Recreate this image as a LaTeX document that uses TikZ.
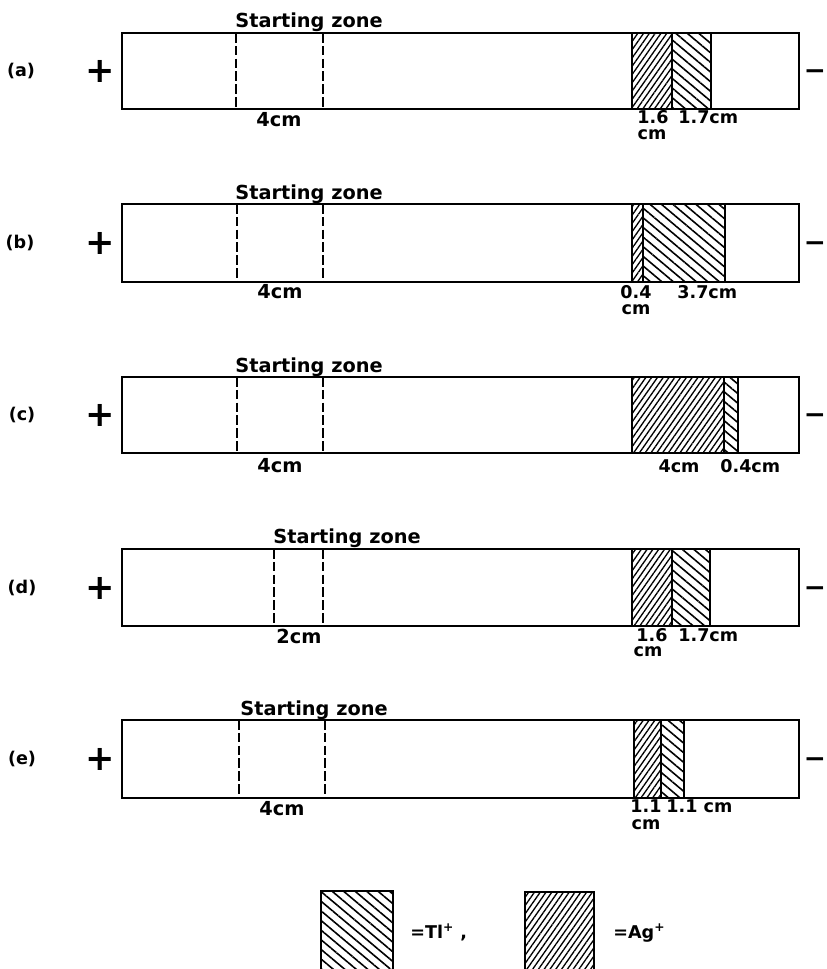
\documentclass[tikz,border=0pt]{standalone}
\usepackage{fontspec}
\setmainfont{DejaVu Sans}
\usetikzlibrary{patterns.meta}

\begin{document}
\begin{tikzpicture}[
    x=0.02cm, y=-0.02cm,
    font=\fontsize{11}{13}\bfseries\selectfont,
    strip/.style={line width=1.1pt},
    zone/.style={line width=0.7pt, dash pattern=on 5.5pt off 1.8pt},
    tl/.style={line width=1.1pt, pattern={Lines[angle=-40, distance=4.2pt, line width=0.9pt]}},
    ag/.style={line width=1.1pt, pattern={Lines[angle=55, distance=2.7pt, line width=0.75pt]}},
    lbl/.style={anchor=base, inner sep=0pt},
    cmlbl/.style={anchor=base, inner sep=0pt, font=\fontsize{10}{12}\bfseries\selectfont},
    stripname/.style={inner sep=0pt, font=\fontsize{10}{12}\bfseries\selectfont},
    plus/.style={inner sep=0pt, font=\fontsize{20}{20}\bfseries\selectfont},
    minus/.style={inner sep=0pt, font=\fontsize{15}{15}\bfseries\selectfont}
]
\useasboundingbox (0,0) rectangle (826,969);

% --- PARAMETER ---
\def\xl{122}   % linker Rand der Streifen
\def\xr{799}   % rechter Rand der Streifen

% --- STREIFEN (a) ---
\begin{scope}[shift={(0,33)}]
    \def\hh{76}
    \node[stripname] (labA) at (21,38) {(a)};
    \node[plus] (plusA) at (100,38) {+};
    \node[minus] (minusA) at (815,42) {−};
    \draw[ag] (632,0) rectangle (672,\hh);
    \draw[tl] (672,0) rectangle (711,\hh);
    \draw[zone] (236,0) -- (236,\hh);
    \draw[zone] (323,0) -- (323,\hh);
    \draw[strip] (\xl,0) rectangle (\xr,\hh);
    \node[lbl, anchor=base west] (startA) at (235,-5) {Starting zone};
    \node[lbl] (zoneA) at (279,94) {4cm};
    \node[cmlbl] (agA) at (653,91) {1.6};
    \node[cmlbl] (agcmA) at (652,107) {cm};
    \node[cmlbl, anchor=base west] (tlA) at (678,91) {1.7cm};
\end{scope}

% --- STREIFEN (b) ---
\begin{scope}[shift={(0,204)}]
    \def\hh{78}
    \node[stripname] (labB) at (20,39) {(b)};
    \node[plus] (plusB) at (100,39) {+};
    \node[minus] (minusB) at (815,43) {−};
    \draw[ag] (632,0) rectangle (643,\hh);
    \draw[tl] (643,0) rectangle (725,\hh);
    \draw[zone] (237,0) -- (237,\hh);
    \draw[zone] (323,0) -- (323,\hh);
    \draw[strip] (\xl,0) rectangle (\xr,\hh);
    \node[lbl, anchor=base west] (startB) at (235,-4) {Starting zone};
    \node[lbl] (zoneB) at (280,94) {4cm};
    \node[cmlbl] (agB) at (636,94) {0.4};
    \node[cmlbl] (agcmB) at (636,110) {cm};
    \node[cmlbl, anchor=base west] (tlB) at (677,94) {3.7cm};
\end{scope}

% --- STREIFEN (c) ---
\begin{scope}[shift={(0,377)}]
    \def\hh{76}
    \node[stripname] (labC) at (22,38) {(c)};
    \node[plus] (plusC) at (100,38) {+};
    \node[minus] (minusC) at (815,42) {−};
    \draw[ag] (632,0) rectangle (724,\hh);
    \draw[tl] (724,0) rectangle (738,\hh);
    \draw[zone] (237,0) -- (237,\hh);
    \draw[zone] (323,0) -- (323,\hh);
    \draw[strip] (\xl,0) rectangle (\xr,\hh);
    \node[lbl, anchor=base west] (startC) at (235,-5) {Starting zone};
    \node[lbl] (zoneC) at (280,95) {4cm};
    \node[cmlbl] (agC) at (679,95) {4cm};
    \node[cmlbl, anchor=base west] (tlC) at (720,95) {0.4cm};
\end{scope}

% --- STREIFEN (d) ---
\begin{scope}[shift={(0,549)}]
    \def\hh{77}
    \node[stripname] (labD) at (22,39) {(d)};
    \node[plus] (plusD) at (100,39) {+};
    \node[minus] (minusD) at (815,43) {−};
    \draw[ag] (632,0) rectangle (672,\hh);
    \draw[tl] (672,0) rectangle (710,\hh);
    \draw[zone] (274,0) -- (274,\hh);
    \draw[zone] (323,0) -- (323,\hh);
    \draw[strip] (\xl,0) rectangle (\xr,\hh);
    \node[lbl, anchor=base west] (startD) at (273,-6) {Starting zone};
    \node[lbl] (zoneD) at (299,94) {2cm};
    \node[cmlbl] (agD) at (652,92) {1.6};
    \node[cmlbl] (agcmD) at (648,107) {cm};
    \node[cmlbl, anchor=base west] (tlD) at (678,92) {1.7cm};
\end{scope}

% --- STREIFEN (e) ---
\begin{scope}[shift={(0,720)}]
    \def\hh{78}
    \node[stripname] (labE) at (22,39) {(e)};
    \node[plus] (plusE) at (100,39) {+};
    \node[minus] (minusE) at (815,43) {−};
    \draw[ag] (634,0) rectangle (661,\hh);
    \draw[tl] (661,0) rectangle (684,\hh);
    \draw[zone] (239,0) -- (239,\hh);
    \draw[zone] (325,0) -- (325,\hh);
    \draw[strip] (\xl,0) rectangle (\xr,\hh);
    \node[lbl, anchor=base west] (startE) at (240,-5) {Starting zone};
    \node[lbl] (zoneE) at (282,95) {4cm};
    \node[cmlbl] (agE) at (646,92) {1.1};
    \node[cmlbl] (agcmE) at (646,109) {cm};
    \node[cmlbl, anchor=base west] (tlE) at (666,92) {1.1 cm};
\end{scope}

% --- LEGENDE (unten abgeschnitten) ---
\fill[tl] (321,891) rectangle (393,970);
\draw[strip] (321,970) |- (393,891) -- (393,970);
\node[cmlbl, anchor=base west] (tlKey) at (410,938) {=Tl\textsuperscript{+} ,};
\fill[ag] (525,892) rectangle (594,970);
\draw[strip] (525,970) |- (594,892) -- (594,970);
\node[cmlbl, anchor=base west] (agKey) at (613,938) {=Ag\textsuperscript{+}};
\end{tikzpicture}
\end{document}
